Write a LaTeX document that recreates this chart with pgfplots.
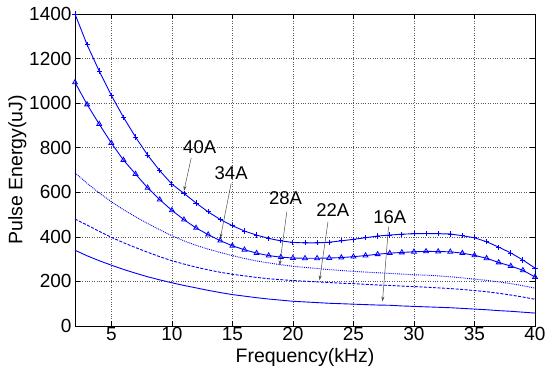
\documentclass[border=0pt]{standalone}
\usepackage{fontspec}
\setmainfont{Liberation Sans}
\usepackage{pgfplots}
\pgfplotsset{compat=1.18}
\usetikzlibrary{arrows.meta}
\pgfplotstableread{
x a40 a34 a28 a22 a16
2 1400 1093 688 480 340
3 1262 994 640 453 315
4 1144 906 597 425 293
5 1035 821 558 398 273
6 937 745 522 374 254
7 848 682 490 352 237
8 767 620 460 331 221
9 697 567 432 311 207
10 637 519 405 293 194
11 595 477 382 278 182
12 552 440 362 264 171
13 512 410 345 252 160
14 478 383 330 241 150
15 450 360 316 232 141
16 426 342 303 225 134
17 408 327 292 218 127
18 393 316 283 212 121
19 382 309 275 208 116
20 375 305 268 204 111
21 373 304 263 201 108
22 373 304 258 198 105
23 376 305 253 195 102
24 382 307 249 192 100
25 389 311 245 190 98
26 396 316 242 187 96
27 404 322 239 184 94
28 408 327 236 182 93
29 412 330 233 179 90
30 414 333 230 177 88
31 415 335 228 174 86
32 414 334 225 171 84
33 413 333 221 168 82
34 405 327 216 164 79
35 396 317 210 159 76
36 378 304 205 154 73
37 354 285 198 147 69
38 328 269 190 139 66
39 296 250 181 130 62
40 260 220 170 120 58
}\datatable
\begin{document}
\begin{tikzpicture}[x=1pt,y=1pt]
\begin{axis}[
  scale only axis, width=460pt, height=312pt,
  xmin=2, xmax=40, ymin=0, ymax=1400,
  xtick={5,10,...,40}, ytick={0,200,...,1400},
  grid=major, major grid style={dotted, black!65, line width=0.6pt},
  tick align=inside, major tick length=5pt,
  axis line style={line width=0.8pt},
  every tick/.style={black, line width=0.6pt},
  /pgf/number format/assume math mode=true,
  /pgf/number format/1000 sep={},
  ticklabel style={font=\fontsize{19}{21}\selectfont},
  xticklabel style={yshift=2pt},
  label style={font=\fontsize{19.5}{21}\selectfont},
  xlabel={Frequency(kHz)}, ylabel={Pulse Energy(uJ)},
  xlabel style={yshift=-1pt},
  ylabel style={yshift=-4pt},
  clip=false,
]
\addplot[blue, line width=0.9pt, mark=+, mark size=2.6pt, mark options={solid, line width=0.8pt}] table[x=x,y=a40] {\datatable};
\addplot[blue, line width=0.9pt, mark=triangle, mark size=2.8pt, mark options={solid, line width=0.8pt}] table[x=x,y=a34] {\datatable};
\addplot[blue, line width=0.9pt, densely dotted] table[x=x,y=a28] {\datatable};
\addplot[blue, line width=0.9pt, dash pattern=on 3pt off 1.5pt] table[x=x,y=a22] {\datatable};
\addplot[blue, line width=0.9pt] table[x=x,y=a16] {\datatable};

\begin{scope}[font=\fontsize{18.5}{20}\selectfont]
\node at (axis cs:12.3,803) {40A};
\node at (axis cs:14.9,685) {34A};
\node at (axis cs:19.4,573) {28A};
\node at (axis cs:23.3,520) {22A};
\node at (axis cs:28.0,488) {16A};
\end{scope}
\begin{scope}[-{Stealth[length=5pt,width=3pt]}, black!70, line width=0.5pt]
\draw (axis cs:11.6,754) -- (axis cs:11.0,606);
\draw (axis cs:14.9,640) -- (axis cs:14.0,393);
\draw (axis cs:19.5,513) -- (axis cs:18.9,272);
\draw (axis cs:22.9,468) -- (axis cs:22.2,205);
\draw (axis cs:27.9,445) -- (axis cs:27.4,110);
\end{scope}
\end{axis}
\path ([shift={(-75pt,-43pt)}]current axis.south west) rectangle ([shift={(17pt,14pt)}]current axis.north east);
\end{tikzpicture}
\end{document}
